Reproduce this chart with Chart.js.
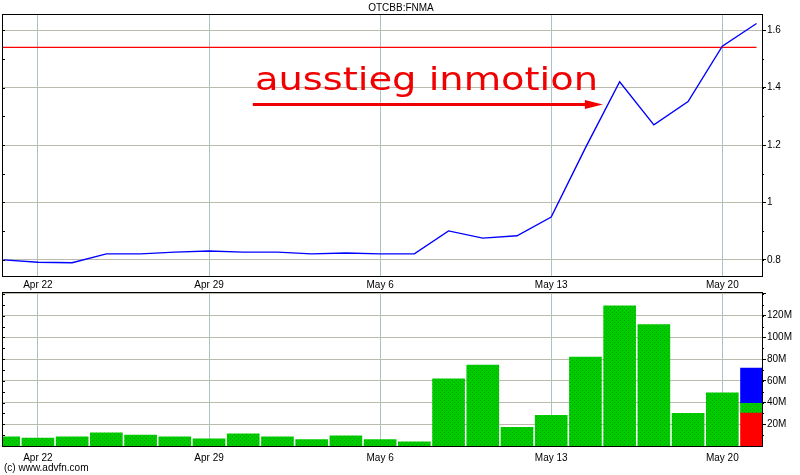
<!DOCTYPE html>
<html><head><meta charset="utf-8">
<script src="https://cdn.jsdelivr.net/npm/chart.js@4/dist/chart.umd.min.js"></script>
<style>
html,body{margin:0;padding:0;background:#fff;width:800px;height:475px;overflow:hidden;font-family:"Liberation Sans",Arial,sans-serif}
#c1{position:absolute;left:0;top:0}
#c2{position:absolute;left:0;top:285px}
#copy{position:absolute;left:4px;top:462px;font-size:10px;color:#000;line-height:12px;white-space:nowrap}
</style></head><body>
<canvas id="c1" width="800" height="290"></canvas>
<canvas id="c2" width="800" height="190"></canvas>
<div id="copy">(c) www.advfn.com</div>
<script>
// ---------- data ----------
const symbol = 'OTCBB:FNMA';
const dates = ['Apr 19','Apr 22','Apr 23','Apr 24','Apr 25','Apr 26','Apr 29','Apr 30','May 1','May 2','May 3',
               'May 6','May 7','May 8','May 9','May 10','May 13','May 14','May 15','May 16','May 17','May 20','May 21'];
const prices = [0.800,0.792,0.790,0.821,0.821,0.827,0.831,0.827,0.827,0.821,0.824,
                0.821,0.821,0.901,0.876,0.884,0.949,1.190,1.420,1.270,1.351,1.544,1.623];
const volumes = [8.5,7.3,8.5,12.1,10.0,8.5,6.7,11.2,8.5,5.8,9.4,
                 5.8,3.9,61.8,74.5,17.3,28.2,81.8,129.0,111.8,30.0,49.0,null]; // millions
const lastVolDown = [30.3];     // red part of latest bar
const lastVolNeutral = [9.1];   // green part of latest bar
const lastVolUp = [32.4];       // blue part of latest bar
const exitLevel = 1.54;
const dateTicks = ['Apr 22','Apr 29','May 6','May 13','May 20'];
const priceTicks = [0.8,1.0,1.2,1.4,1.6];
const priceTickLabels = ['0.8','1','1.2','1.4','1.6'];
const volTicks = [20,40,60,80,100,120,140];
const volTickLabels = ['20M','40M','60M','80M','100M','120M',''];
const noteText = 'ausstieg inmotion';

// ---------- helpers ----------
const FONT = '"Liberation Sans", Arial, sans-serif';
const xMin = -0.05, xMax = 22.16;
const lastIdx = dates.length - 1;
const pts = arr => arr.map((v,i)=>({x:i,y:v})).filter(p=>p.y!==null);

function xAxis(pad, h){
  return {
    type:'linear', min:xMin, max:xMax, offset:false,
    afterBuildTicks: s => { s.ticks = dateTicks.map(d => ({value: dates.indexOf(d)})); },
    ticks:{autoSkip:false, maxRotation:0, minRotation:0, padding:pad, color:'#000',
           font:{family:FONT,size:10}, callback: v => dates[v]},
    grid:{display:true, offset:false, drawTicks:false, color:'#a8c4c8', lineWidth:1},
    border:{display:false},
    afterFit: s => { s.height = h; }
  };
}

const framePlugin = {
  id:'frame',
  afterDraw(chart, args, opts){
    const {ctx, chartArea:a} = chart;
    const ys = chart.scales.y;
    ctx.save();
    ctx.strokeStyle = '#000'; ctx.lineWidth = 1;
    ctx.beginPath();
    for (let k = 0; ; k++) {
      const v = opts.minorStart + k*opts.minorStep;
      if (v > ys.max + 1e-9) break;
      const p = Math.round(ys.getPixelForValue(v)) + 0.5;
      ctx.moveTo(a.right, p); ctx.lineTo(a.right + 2, p);
      ctx.moveTo(a.left, p); ctx.lineTo(a.left + 3, p);
    }
    ctx.stroke();
    ctx.strokeRect(Math.round(a.left)+0.5, Math.round(a.top)+0.5,
                   Math.round(a.right)-Math.round(a.left), Math.round(a.bottom)-Math.round(a.top));
    ctx.restore();
  }
};

const notePlugin = {
  id:'note',
  afterDatasetsDraw(chart){
    const {ctx} = chart;
    const xs = chart.scales.x, ys = chart.scales.y;
    ctx.save();
    // text
    const x0 = xs.getPixelForValue(7.34), x1 = xs.getPixelForValue(17.37);
    const yb = ys.getPixelForValue(1.39);
    ctx.font = '32px "DejaVu Sans"';
    ctx.fillStyle = '#f00000';
    ctx.textBaseline = 'alphabetic';
    const w = ctx.measureText(noteText).width;
    ctx.translate(x0, yb);
    ctx.scale((x1-x0)/w, 1);
    ctx.fillText(noteText, 0, 0);
    ctx.setTransform(1,0,0,1,0,0);
    // arrow
    const ax0 = xs.getPixelForValue(7.28), ax1 = xs.getPixelForValue(17.51);
    const ay = Math.round(ys.getPixelForValue(1.344)) + 0.5;
    ctx.strokeStyle = '#f00000'; ctx.lineWidth = 3;
    ctx.beginPath(); ctx.moveTo(ax0, ay); ctx.lineTo(ax1-12, ay); ctx.stroke();
    ctx.beginPath();
    ctx.moveTo(ax1-18, ay-4.5); ctx.lineTo(ax1, ay); ctx.lineTo(ax1-18, ay+4.5); ctx.closePath();
    ctx.fillStyle = '#f00000'; ctx.fill();
    ctx.restore();
  }
};

// ---------- price chart ----------
new Chart(document.getElementById('c1'), {
  type:'line',
  data:{datasets:[
    {data: pts(prices), borderColor:'#0000ff', borderWidth:1.4, pointRadius:0, tension:0, order:1},
    {data: [{x:xMin,y:exitLevel},{x:lastIdx,y:exitLevel}], borderColor:'#ff0000', borderWidth:1.2, pointRadius:0, order:2}
  ]},
  options:{
    responsive:false, animation:false, parsing:true,
    layout:{padding:{left:2,right:0,top:0,bottom:0}},
    plugins:{legend:{display:false}, tooltip:{enabled:false},
      title:{display:true, text:symbol, color:'#000', font:{family:FONT,size:10,weight:'normal',lineHeight:1}, padding:{top:3,bottom:1}},
      frame:{minorStart:0.8, minorStep:0.1}},
    scales:{
      x: xAxis(3, 14),
      y:{type:'linear', position:'right', min:0.744, max:1.656,
         afterBuildTicks: s => { s.ticks = priceTicks.map(v=>({value:v})); },
         ticks:{padding:1, color:'#000', font:{family:FONT,size:10}, callback:(v,i)=>priceTickLabels[i]},
         grid:{color:'#bcbcae', drawTicks:true, tickLength:4, tickColor:'#000'},
         border:{display:false},
         afterFit: s => { s.width = 38; }}
    }
  },
  plugins:[framePlugin, notePlugin]
});

// ---------- volume chart ----------
const c2 = document.getElementById('c2');
const pc = document.createElement('canvas'); pc.width = 4; pc.height = 4;
const pg = pc.getContext('2d');
pg.fillStyle = '#00cc00'; pg.fillRect(0,0,4,4);
pg.fillStyle = '#00a000'; pg.fillRect(0,3,1,1); pg.fillRect(2,1,1,1);
const green = c2.getContext('2d').createPattern(pc, 'repeat');

new Chart(c2, {
  type:'bar',
  data:{datasets:[
    {data: pts(volumes), backgroundColor:green, borderWidth:0, barThickness:32},
    {data: lastVolDown.map(v=>({x:lastIdx,y:v})), backgroundColor:'#ff0000', borderWidth:0, barThickness:32},
    {data: lastVolNeutral.map(v=>({x:lastIdx,y:v})), backgroundColor:green, borderWidth:0, barThickness:32},
    {data: lastVolUp.map(v=>({x:lastIdx,y:v})), backgroundColor:'#0000ff', borderWidth:0, barThickness:32}
  ]},
  options:{
    responsive:false, animation:false,
    layout:{padding:{left:2,right:0,top:5,bottom:0}},
    plugins:{legend:{display:false}, tooltip:{enabled:false}, frame:{minorStart:10, minorStep:10}},
    scales:{
      x: Object.assign(xAxis(6, 29), {stacked:true}),
      y:{type:'linear', position:'right', min:0, max:141.8, stacked:true,
         afterBuildTicks: s => { s.ticks = volTicks.map(v=>({value:v})); },
         ticks:{padding:1, color:'#000', font:{family:FONT,size:10}, callback:(v,i)=>volTickLabels[i]},
         grid:{color:'#bcbcae', drawTicks:true, tickLength:4, tickColor:'#000'},
         border:{display:false},
         afterFit: s => { s.width = 38; }}
    }
  },
  plugins:[framePlugin]
});
</script>
</body></html>
